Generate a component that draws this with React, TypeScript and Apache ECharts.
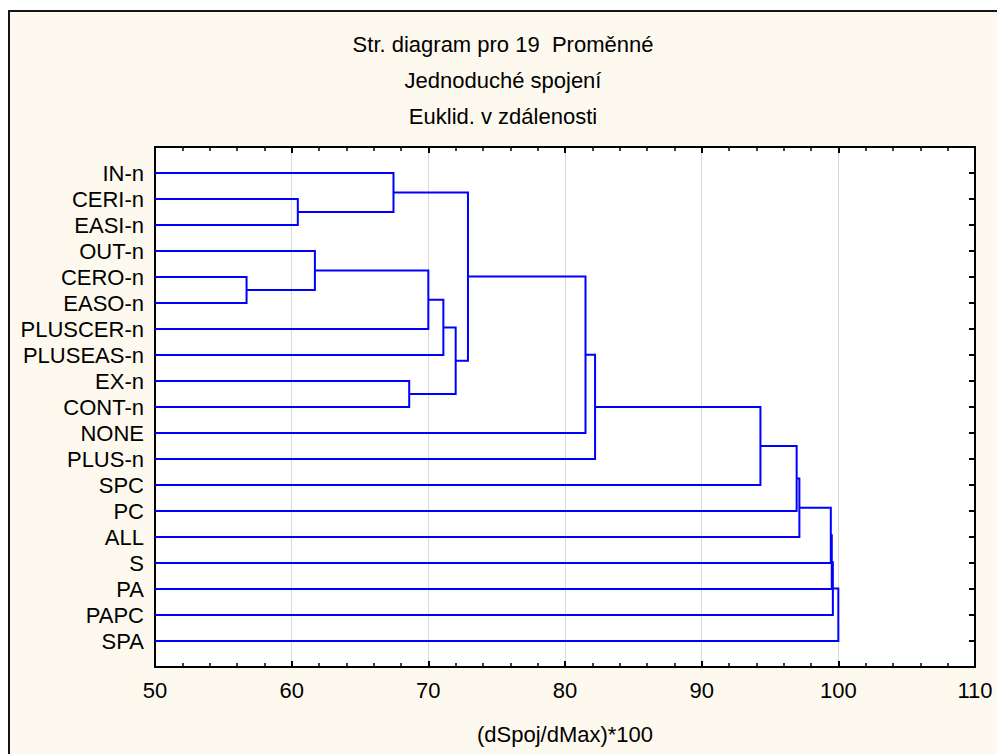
import React, { useEffect, useRef } from "react";
import * as echarts from "echarts";

const titleLines = ["Str. diagram pro 19  Proměnné", "Jednoduché spojení", "Euklid. v zdálenosti"];
const leafLabels = [
  "IN-n", "CERI-n", "EASI-n", "OUT-n", "CERO-n", "EASO-n", "PLUSCER-n", "PLUSEAS-n",
  "EX-n", "CONT-n", "NONE", "PLUS-n", "SPC", "PC", "ALL", "S", "PA", "PAPC", "SPA",
];
// merges: [childA, childB] (indices >= 19 refer to earlier merges), and their linkage distances
const mergeA = [4, 1, 3, 0, 8, 21, 24, 25, 22, 27, 28, 29, 30, 31, 32, 33, 34, 35];
const mergeB = [5, 2, 19, 20, 9, 6, 7, 23, 26, 10, 11, 12, 13, 14, 15, 16, 17, 18];
const mergeHeight = [56.7, 60.45, 61.7, 67.45, 68.6, 70.0, 71.1, 72.0, 72.9, 81.5, 82.2, 94.3, 96.95, 97.15, 99.45, 99.52, 99.6, 100.0];
const xMin = 50;
const xMax = 110;
const xStep = 10;
const axisTitle = "(dSpoj/dMax)*100";

const FONT = "'Liberation Sans', Arial, sans-serif";

export default function App() {
  const ref = useRef<HTMLDivElement>(null);
  useEffect(() => {
    if (!ref.current) return;
    const chart = echarts.init(ref.current, null, { renderer: "svg" });
    const n = leafLabels.length;
    const nodeX: number[] = [];
    const nodeY: number[] = [];
    for (let i = 0; i < n; i++) {
      nodeX.push(xMin);
      nodeY.push(i + 1);
    }
    const segs: any[] = [];
    for (let k = 0; k < mergeA.length; k++) {
      const a = mergeA[k];
      const b = mergeB[k];
      const h = mergeHeight[k];
      segs.push({
        coords: [
          [nodeX[a], nodeY[a]],
          [h, nodeY[a]],
          [h, nodeY[b]],
          [nodeX[b], nodeY[b]],
        ],
      });
      nodeX.push(h);
      nodeY.push((nodeY[a] + nodeY[b]) / 2);
    }
    const axisLineStyle = { color: "#000", width: 2 };
    chart.setOption({
      animation: false,
      backgroundColor: "#ffffff",
      textStyle: { fontFamily: FONT },
      graphic: [
        {
          type: "rect",
          shape: { x: 9, y: 11, width: 1100, height: 900 },
          style: { fill: "#FEF9EE", stroke: "#151515", lineWidth: 2 },
          z: -10,
          silent: true,
        },
        ...titleLines.map((t, i) => ({
          type: "text",
          x: 503,
          y: 44 + i * 36,
          style: {
            text: t,
            fill: "#000",
            font: `22px ${FONT}`,
            textAlign: "center",
            textVerticalAlign: "middle",
          },
          z: 10,
        })),
      ],
      grid: {
        left: 155,
        right: 22,
        top: 147,
        bottom: 87,
        show: true,
        backgroundColor: "#ffffff",
        borderWidth: 0,
        z: 0,
      },
      xAxis: [
        {
          type: "value",
          position: "bottom",
          min: xMin,
          max: xMax,
          interval: xStep,
          axisLine: { show: true, onZero: false, lineStyle: axisLineStyle },
          axisTick: { show: true, inside: true, length: 6, lineStyle: { color: "#000", width: 2 } },
          minorTick: { show: true, splitNumber: 5, length: 4, lineStyle: { color: "#000", width: 1.5 } },
          axisLabel: { color: "#000", fontSize: 22, margin: 12, fontFamily: FONT },
          splitLine: { show: true, lineStyle: { color: "#DADADA", width: 1 } },
          name: axisTitle,
          nameLocation: "middle",
          nameGap: 56,
          nameTextStyle: { color: "#000", fontSize: 22, fontFamily: FONT },
        },
        {
          type: "value",
          position: "top",
          min: xMin,
          max: xMax,
          interval: xStep,
          axisLine: { show: true, onZero: false, lineStyle: axisLineStyle },
          axisTick: { show: true, inside: true, length: 6, lineStyle: { color: "#000", width: 2 } },
          minorTick: { show: true, splitNumber: 5, length: 4, lineStyle: { color: "#000", width: 1.5 } },
          axisLabel: { show: false },
          splitLine: { show: false },
        },
      ],
      yAxis: [
        {
          type: "value",
          position: "left",
          inverse: true,
          min: 0,
          max: n + 1,
          interval: 1,
          axisLine: { show: true, onZero: false, lineStyle: axisLineStyle },
          axisTick: { show: true, inside: true, length: 6, lineStyle: { color: "#000", width: 2 } },
          axisLabel: {
            color: "#000",
            fontSize: 22,
            margin: 11,
            fontFamily: FONT,
            formatter: (v: number) => (v >= 1 && v <= n ? leafLabels[v - 1] : ""),
          },
          splitLine: { show: false },
        },
        {
          type: "value",
          position: "right",
          inverse: true,
          min: 0,
          max: n + 1,
          interval: 1,
          axisLine: { show: true, onZero: false, lineStyle: axisLineStyle },
          axisTick: { show: true, inside: true, length: 6, lineStyle: { color: "#000", width: 2 } },
          axisLabel: { show: false },
          splitLine: { show: false },
        },
      ],
      series: [
        {
          type: "lines",
          coordinateSystem: "cartesian2d",
          xAxisIndex: 0,
          yAxisIndex: 0,
          polyline: true,
          silent: true,
          lineStyle: { color: "#0000FF", width: 2, opacity: 1, join: "miter" },
          data: segs,
          z: 5,
        },
      ],
    });
    return () => chart.dispose();
  }, []);
  return (
    <div
      ref={ref}
      style={{ position: "fixed", left: 0, top: 0, width: 997, height: 754 }}
    />
  );
}
